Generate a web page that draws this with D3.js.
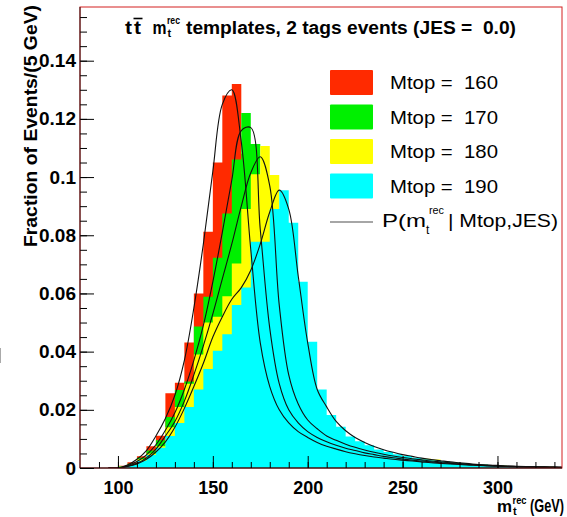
<!DOCTYPE html>
<html>
<head>
<meta charset="utf-8">
<script src="https://cdn.jsdelivr.net/npm/d3@7"></script>
<style>
  body { margin: 0; background: #fff; }
  text { font-family: "Liberation Sans", Arial, Helvetica, sans-serif; white-space: pre; }
</style>
</head>
<body>
<svg id="chart" width="567" height="517"></svg>
<script>
// 5 GeV bins (lower edges)
const binLow = [95,100,105,110,115,120,125,130,135,140,145,150,155,160,165,170,175,180,185,190,
  195,200,205,210,215,220,225,230,235,240,245,250,255,260,265,270,275,280,285,290,
  295,300,305,310,315,320,325,330];

const hist160 = [0,0.0008,0.002,0.004,0.0075,0.0111,0.0257,0.0293,0.0431,0.060,0.0812,0.105,0.128,0.132,0.108,0.072,0.045,0.029,0.021,0.016,
  0.013,0.010,0.009,0.0075,0.0065,0.0056,0.005,0.0044,0.0039,0.0035,0.003,0.0027,0.0024,0.0021,0.0019,0.0016,0.0014,0.0012,0.001,0.0009,
  0.0007,0.0006,0.0005,0.0004,0.0004,0.0003,0.0003,0.0002];
const hist170 = [0,0.0006,0.0015,0.0035,0.006,0.0095,0.0175,0.0268,0.0297,0.0486,0.0589,0.0723,0.0875,0.106,0.122,0.1114,0.082,0.050,0.031,0.021,
  0.016,0.0125,0.0105,0.009,0.0078,0.0068,0.006,0.0052,0.0046,0.004,0.0035,0.0031,0.0028,0.0024,0.0021,0.0018,0.0016,0.0014,0.0012,0.001,
  0.0009,0.0007,0.0006,0.0005,0.0004,0.0004,0.0003,0.0003];
const hist180 = [0,0.0005,0.0012,0.003,0.005,0.0075,0.014,0.021,0.029,0.039,0.050,0.052,0.059,0.0703,0.089,0.101,0.1107,0.1007,0.058,0.034,
  0.023,0.0175,0.014,0.0115,0.0098,0.0085,0.0074,0.0064,0.0056,0.0049,0.0043,0.0038,0.0033,0.0032,0.0029,0.0022,0.0019,0.0016,0.0014,0.0012,
  0.001,0.0009,0.0007,0.0006,0.0005,0.0004,0.0004,0.0003];
const hist190 = [0,0.0004,0.001,0.0025,0.0045,0.007,0.011,0.0155,0.021,0.027,0.034,0.0403,0.046,0.056,0.062,0.0778,0.0778,0.089,0.0955,0.0843,
  0.064,0.0434,0.027,0.0182,0.0142,0.0108,0.0092,0.0078,0.0064,0.0055,0.0047,0.0041,0.0035,0.003,0.0027,0.0023,0.0019,0.0016,0.0014,0.0012,
  0.001,0.0008,0.0007,0.0006,0.0005,0.0004,0.0003,0.0003];

// fitted template curves, sampled every 5 GeV
const curveMass = [95,100,105,110,115,120,125,130,135,140,145,150,155,160,165,170,175,180,185,190,
  195,200,205,210,215,220,225,230,235,240,245,250,255,260,265,270,275,280,285,290,
  295,300,305,310,315,320,325,330,335];
const fit160 = [0,0,0.001,0.003,0.006,0.011,0.017,0.025,0.037,0.055,0.077,0.102,0.125,0.130,0.112,0.075,0.043,0.028,0.020,0.0155,
  0.0125,0.0105,0.0088,0.0075,0.0065,0.0056,0.0049,0.0043,0.0038,0.0034,0.003,0.0027,0.0024,0.0021,0.0018,0.0016,0.0014,0.0012,0.001,0.0009,
  0.0007,0.0006,0.0005,0.0004,0.0004,0.0003,0.0003,0.0002,0.0002];
const fit170 = [0,0,0.0008,0.0022,0.0045,0.008,0.013,0.019,0.027,0.037,0.049,0.064,0.081,0.099,0.116,0.117,0.082,0.048,0.029,0.020,
  0.0155,0.0125,0.0105,0.009,0.0078,0.0068,0.006,0.0052,0.0046,0.004,0.0035,0.0031,0.0027,0.0024,0.0021,0.0018,0.0016,0.0014,0.0012,0.001,
  0.0008,0.0007,0.0006,0.0005,0.0004,0.0003,0.0003,0.0002,0.0002];
const fit180 = [0,0,0.0006,0.0016,0.0035,0.0065,0.011,0.016,0.023,0.032,0.042,0.053,0.065,0.077,0.090,0.1015,0.107,0.097,0.056,0.032,
  0.022,0.0165,0.0135,0.011,0.0095,0.0082,0.0071,0.0062,0.0054,0.0047,0.0041,0.0036,0.0032,0.0028,0.0024,0.0021,0.0018,0.0015,0.0013,0.0011,
  0.0009,0.0008,0.0006,0.0005,0.0004,0.0004,0.0003,0.0003,0.0002];
const fit190 = [0,0,0.0005,0.0014,0.003,0.0055,0.009,0.014,0.0205,0.028,0.036,0.045,0.052,0.058,0.062,0.068,0.077,0.088,0.0955,0.089,
  0.066,0.043,0.027,0.021,0.016,0.0128,0.0105,0.0088,0.0074,0.0063,0.0054,0.0046,0.004,0.0034,0.0029,0.0025,0.0021,0.0018,0.0015,0.0012,
  0.001,0.0009,0.0007,0.0006,0.0005,0.0004,0.0004,0.0003,0.0003];

const histColors = ["#ff2a00", "#00f000", "#ffff00", "#00ffff"];
const legendLabels = ["Mtop =  160", "Mtop =  170", "Mtop =  180", "Mtop =  190"];
const yTickValues = [0, 0.02, 0.04, 0.06, 0.08, 0.1, 0.12, 0.14];
const xTickValues = [100, 150, 200, 250, 300];

const svg = d3.select("#chart");
const frameL = 80, frameR = 562, frameT = 7, frameB = 468;

const x = d3.scaleLinear().domain([80, 334]).range([frameL, frameR]);
const y = d3.scaleLinear().domain([0, 0.14]).range([frameB, 60.7]);

svg.append("clipPath").attr("id", "plotclip")
  .append("rect").attr("x", frameL).attr("y", frameT).attr("width", frameR - frameL).attr("height", frameB - frameT);

const plot = svg.append("g").attr("clip-path", "url(#plotclip)");

function histPath(vals) {
  let pts = binLow.map((b, i) => [b, vals[i]]);
  pts.push([binLow[binLow.length - 1] + 5, vals[vals.length - 1]]);
  return d3.area()
    .x(d => x(d[0]))
    .y0(y(0))
    .y1(d => y(d[1]))
    .curve(d3.curveStepAfter)(pts);
}

[hist160, hist170, hist180, hist190].forEach((h, i) => {
  plot.append("path").attr("d", histPath(h)).attr("fill", histColors[i]).attr("stroke", "none");
});

const fitLine = d3.line()
  .x((d, i) => x(curveMass[i]))
  .y(d => y(d))
  .curve(d3.curveCatmullRom.alpha(0.5));

[fit160, fit170, fit180, fit190].forEach(f => {
  plot.append("path").attr("d", fitLine(f))
    .attr("fill", "none").attr("stroke", "#111").attr("stroke-width", 1.1);
});

// frame
svg.append("rect").attr("x", frameL).attr("y", frameT).attr("width", frameR - frameL).attr("height", frameB - frameT)
  .attr("fill", "none").attr("stroke", "#d42020").attr("stroke-width", 1);

// y axis ticks (inside, ROOT style)
svg.append("g").attr("transform", `translate(${frameL},0)`)
  .call(d3.axisRight(y).tickValues(yTickValues).tickSize(14).tickFormat(""))
  .call(g => g.select(".domain").remove());
svg.append("g").attr("transform", `translate(${frameL},0)`)
  .call(d3.axisRight(y).tickValues(d3.range(0, 0.1575, 0.005)).tickSize(7).tickFormat(""))
  .call(g => g.select(".domain").remove());
svg.append("g").attr("transform", `translate(${frameL},0)`)
  .call(d3.axisLeft(y).tickValues(yTickValues).tickSize(0).tickPadding(4)
    .tickFormat(d => d === 0 ? "0" : String(+d.toFixed(2))))
  .call(g => g.select(".domain").remove())
  .selectAll("text").attr("font-size", 19).attr("font-weight", "bold").attr("fill", "#000")
  .style("font-family", "'Liberation Sans', Arial, sans-serif");

// x axis ticks
svg.append("g").attr("transform", `translate(0,${frameB})`)
  .call(d3.axisTop(x).tickValues(xTickValues).tickSize(12).tickFormat(""))
  .call(g => g.select(".domain").remove());
svg.append("g").attr("transform", `translate(0,${frameB})`)
  .call(d3.axisTop(x).tickValues(d3.range(90, 334, 10)).tickSize(6).tickFormat(""))
  .call(g => g.select(".domain").remove());
svg.append("g").attr("transform", `translate(0,${frameB})`)
  .call(d3.axisBottom(x).tickValues(xTickValues).tickSize(0).tickPadding(13))
  .call(g => g.select(".domain").remove())
  .selectAll("text").attr("font-size", 18).attr("font-weight", "bold").attr("fill", "#000")
  .style("font-family", "'Liberation Sans', Arial, sans-serif");

svg.selectAll(".tick line").attr("stroke", "#000");

// axis lines
svg.append("line").attr("x1", frameL).attr("x2", frameL).attr("y1", frameT).attr("y2", frameB)
  .attr("stroke", "#2a1010").attr("stroke-width", 1);
svg.append("line").attr("x1", frameL).attr("x2", frameR).attr("y1", frameB).attr("y2", frameB)
  .attr("stroke", "#000").attr("stroke-width", 1);

// y axis title
svg.append("text")
  .attr("transform", "translate(37,247) rotate(-90)")
  .attr("font-size", 19).attr("font-weight", "bold")
  .attr("textLength", 242).attr("lengthAdjust", "spacingAndGlyphs")
  .text("Fraction of Events/(5 GeV)");

// x axis title
const xt = svg.append("g").attr("font-weight", "bold");
xt.append("text").attr("x", 497).attr("y", 512).attr("font-size", 17)
  .attr("textLength", 15).attr("lengthAdjust", "spacingAndGlyphs").text("m");
xt.append("text").attr("x", 512.5).attr("y", 504).attr("font-size", 10)
  .attr("textLength", 14).attr("lengthAdjust", "spacingAndGlyphs").text("rec");
xt.append("text").attr("x", 513).attr("y", 515).attr("font-size", 11).text("t");
xt.append("text").attr("transform", "translate(530,512) scale(0.71,1)")
  .attr("font-size", 18).text("(GeV)");

// title
const tt = svg.append("g").attr("font-weight", "bold");
tt.append("text").attr("x", 125).attr("y", 34).attr("font-size", 18)
  .attr("textLength", 7).attr("lengthAdjust", "spacingAndGlyphs").text("t");
tt.append("text").attr("x", 134).attr("y", 34).attr("font-size", 18)
  .attr("textLength", 7).attr("lengthAdjust", "spacingAndGlyphs").text("t");
tt.append("line").attr("x1", 133.5).attr("x2", 142.5).attr("y1", 18.5).attr("y2", 18.5)
  .attr("stroke", "#000").attr("stroke-width", 1.6);
tt.append("text").attr("x", 152.5).attr("y", 34).attr("font-size", 18)
  .attr("textLength", 14).attr("lengthAdjust", "spacingAndGlyphs").text("m");
tt.append("text").attr("x", 167).attr("y", 24).attr("font-size", 10)
  .attr("textLength", 13).attr("lengthAdjust", "spacingAndGlyphs").text("rec");
tt.append("text").attr("x", 167.5).attr("y", 37).attr("font-size", 11).text("t");
tt.append("text").attr("x", 186).attr("y", 34).attr("font-size", 18)
  .attr("textLength", 330).attr("lengthAdjust", "spacingAndGlyphs")
  .text("templates, 2 tags events (JES =  0.0)");

// legend
const legY = [82.5, 117, 151.5, 186];
legendLabels.forEach((lab, i) => {
  svg.append("rect").attr("x", 330).attr("y", legY[i] - 12.5).attr("width", 43).attr("height", 25)
    .attr("rx", 1).attr("fill", histColors[i]);
  svg.append("text").attr("x", 390).attr("y", legY[i] + 6.5).attr("font-size", 19)
    .attr("textLength", 108).attr("lengthAdjust", "spacingAndGlyphs").text(lab);
});
svg.append("line").attr("x1", 330).attr("x2", 373).attr("y1", 222).attr("y2", 222)
  .attr("stroke", "#888").attr("stroke-width", 1.5);
svg.append("text").attr("x", 382).attr("y", 227).attr("font-size", 19)
  .attr("textLength", 44).attr("lengthAdjust", "spacingAndGlyphs").text("P(m");
svg.append("text").attr("x", 429).attr("y", 214).attr("font-size", 11)
  .attr("textLength", 15).attr("lengthAdjust", "spacingAndGlyphs").text("rec");
svg.append("text").attr("x", 426).attr("y", 234).attr("font-size", 12).text("t");
svg.append("text").attr("x", 448).attr("y", 227).attr("font-size", 19)
  .attr("textLength", 110).attr("lengthAdjust", "spacingAndGlyphs").text("| Mtop,JES)");

// stray mark at the left edge of the canvas
svg.append("line").attr("x1", 0.5).attr("x2", 0.5).attr("y1", 348).attr("y2", 363)
  .attr("stroke", "#aaa").attr("stroke-width", 1);
</script>
</body>
</html>
